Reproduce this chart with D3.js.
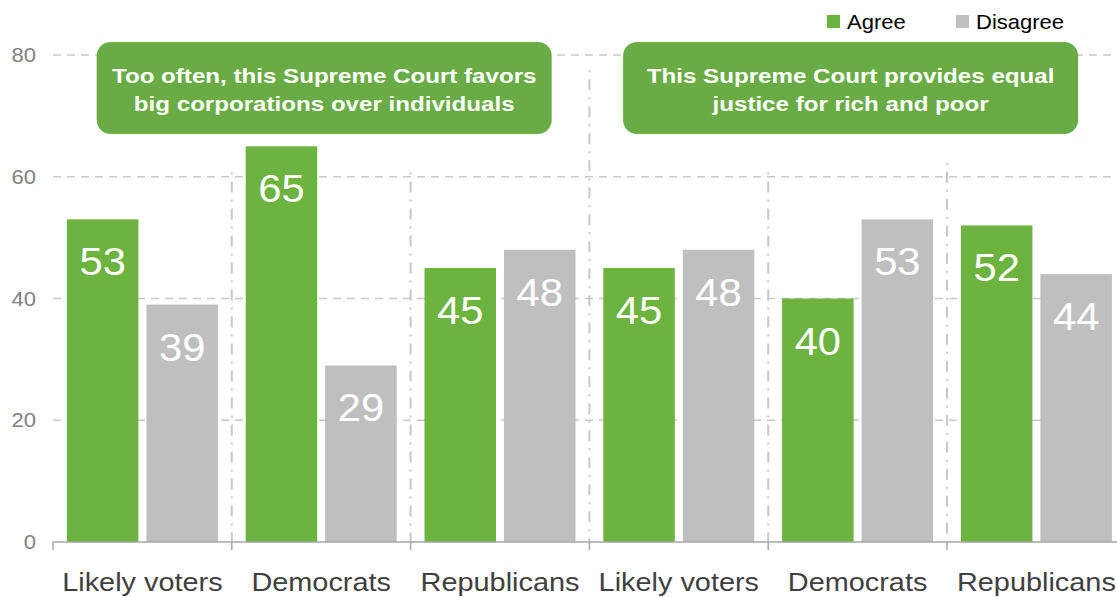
<!DOCTYPE html>
<html>
<head>
<meta charset="utf-8">
<script src="https://cdn.jsdelivr.net/npm/d3@7"></script>
<style>
  html, body { margin: 0; padding: 0; background: #ffffff; }
  svg { display: block; font-family: "Liberation Sans", Arial, sans-serif; }
</style>
</head>
<body>
<svg id="chart" width="1117" height="597"></svg>
<script>
// ---- data ----
const categories = ["Likely voters", "Democrats", "Republicans", "Likely voters", "Democrats", "Republicans"];
const agreeValues = [53, 65, 45, 45, 40, 52];
const disagreeValues = [39, 29, 48, 48, 53, 44];
const seriesNames = ["Agree", "Disagree"];
const yTicks = [0, 20, 40, 60, 80];
const calloutTexts = [
  ["Too often, this Supreme Court favors", "big corporations over individuals"],
  ["This Supreme Court provides equal", "justice for rich and poor"]
];

// ---- layout ----
const W = 1117, H = 597;
const left = 53, bandW = 178.8;
const svg = d3.select("#chart");
const colors = { Agree: "#6db33f", Disagree: "#bfbfbf" };
const boxColor = "#69ac46";

// horizontally stretch text around its anchor point
function stretch(sel, sx) {
  sel.each(function () {
    const t = d3.select(this);
    const px = +t.attr("x") || 0, py = +t.attr("y") || 0;
    t.attr("x", 0).attr("y", 0).attr("transform", `translate(${px},${py}) scale(${sx},1)`);
  });
}

const ids = categories.map((c, i) => i);
const x = d3.scaleBand().domain(ids).range([left, left + bandW * categories.length]).padding(0);
const xs = d3.scaleBand().domain(seriesNames).range([0, x.bandwidth()]).paddingInner(0.1).paddingOuter(0.175);
const y = d3.scaleLinear().domain([0, 80]).range([542, 55]);

// gridlines
svg.append("g").selectAll("line").data(yTicks.filter(t => t > 0)).join("line")
  .attr("x1", left).attr("x2", W)
  .attr("y1", d => y(d)).attr("y2", d => y(d))
  .attr("stroke", "#c8c8c8").attr("stroke-width", 1.3)
  .attr("stroke-dasharray", "8,6");

// y tick labels
svg.append("g").selectAll("text").data(yTicks).join("text")
  .attr("x", 36).attr("y", d => y(d) + 7)
  .attr("text-anchor", "end")
  .attr("font-size", 20).attr("fill", "#7f7f7f")
  .text(d => d)
  .call(stretch, 1.1);

// separators (dash-dot)
const sepIdx = [1, 2, 3, 4, 5];
const sepTopVal = { 1: 60.7, 2: 60.7, 3: 77.5, 4: 60.7, 5: 62.3 };
svg.append("g").selectAll("line").data(sepIdx).join("line")
  .attr("x1", d => x(d)).attr("x2", d => x(d))
  .attr("y1", d => y(sepTopVal[d])).attr("y2", y(0))
  .attr("stroke", "#c8c8c8").attr("stroke-width", 2)
  .attr("stroke-dasharray", "2,7,11,7");

// bars
const rows = ids.map(i => ({ i, Agree: agreeValues[i], Disagree: disagreeValues[i] }));
const barG = svg.append("g");
const bars = barG.selectAll("g").data(rows).join("g")
  .attr("transform", d => `translate(${x(d.i)},0)`);
bars.selectAll("rect").data(d => seriesNames.map(s => ({ s, v: d[s] }))).join("rect")
  .attr("x", d => xs(d.s)).attr("width", xs.bandwidth())
  .attr("y", d => y(d.v)).attr("height", d => y(0) - y(d.v))
  .attr("fill", d => colors[d.s]);
bars.selectAll("text").data(d => seriesNames.map(s => ({ s, v: d[s] }))).join("text")
  .attr("x", d => xs(d.s) + xs.bandwidth() / 2)
  .attr("y", d => y(d.v) + 56)
  .attr("text-anchor", "middle")
  .attr("font-size", 39).attr("fill", "#ffffff")
  .text(d => d.v)
  .call(stretch, 1.07);

// x axis line and ticks
const axisG = svg.append("g");
axisG.append("line").attr("x1", left).attr("x2", W).attr("y1", y(0)).attr("y2", y(0))
  .attr("stroke", "#a6a6a6").attr("stroke-width", 1.5);
axisG.selectAll("line.tick").data(ids).join("line").attr("class", "tick")
  .attr("x1", d => x(d)).attr("x2", d => x(d))
  .attr("y1", y(0)).attr("y2", y(0) + 8)
  .attr("stroke", "#a6a6a6").attr("stroke-width", 1.5);
axisG.selectAll("text").data(ids).join("text")
  .attr("x", d => x(d) + x.bandwidth() / 2)
  .attr("y", 591)
  .attr("text-anchor", "middle")
  .attr("font-size", 26.5).attr("fill", "#404040")
  .text(d => categories[d])
  .call(stretch, 1.09);

// callout boxes
const boxW = 455, boxH = 92;
const boxCenters = [x(1) + x.bandwidth() / 2 + 3, x(4) + x.bandwidth() / 2 - 7];
calloutTexts.forEach((lines, k) => {
  const cx = boxCenters[k];
  const g = svg.append("g");
  g.append("rect").attr("x", cx - boxW / 2).attr("y", 42).attr("width", boxW).attr("height", boxH)
    .attr("rx", 14).attr("ry", 14).attr("fill", boxColor);
  g.selectAll("text").data(lines).join("text")
    .attr("x", cx).attr("y", (d, j) => 83 + j * 28)
    .attr("text-anchor", "middle")
    .attr("font-size", 21).attr("font-weight", "bold").attr("fill", "#ffffff")
    .text(d => d)
    .call(stretch, 1.15);
});

// legend
const legendPos = [{ s: "Agree", x: 827 }, { s: "Disagree", x: 956 }];
const lg = svg.append("g").selectAll("g").data(legendPos).join("g")
  .attr("transform", d => `translate(${d.x},15)`);
lg.append("rect").attr("width", 13).attr("height", 13).attr("fill", d => colors[d.s]);
lg.append("text").attr("x", 20).attr("y", 14).attr("font-size", 20).attr("fill", "#000000")
  .text(d => d.s)
  .call(stretch, 1.1);
</script>
</body>
</html>
